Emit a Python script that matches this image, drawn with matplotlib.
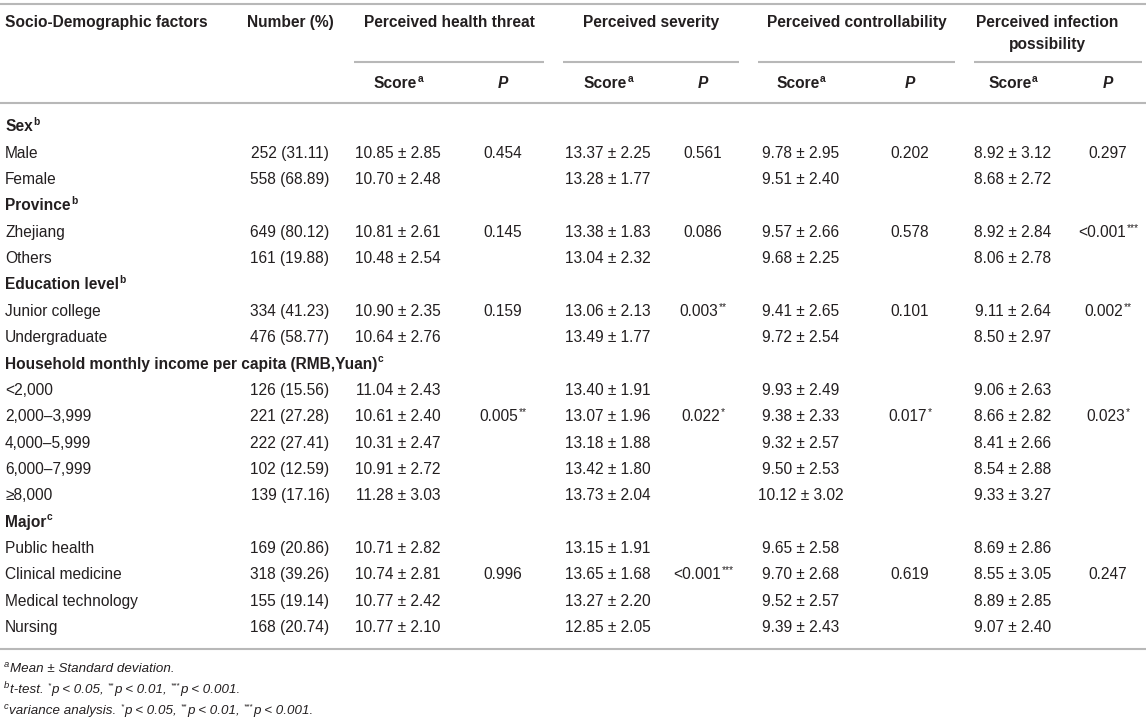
import matplotlib
matplotlib.use("Agg")
import matplotlib.pyplot as plt

# ---- table content ----
group_labels = ["Sex", "Province", "Education level",
                "Household monthly income per capita (RMB,Yuan)", "Major"]
group_sups = ["b", "b", "b", "c", "c"]
group_items = [
    ["Male", "Female"],
    ["Zhejiang", "Others"],
    ["Junior college", "Undergraduate"],
    ["<2,000", "2,000\u20133,999", "4,000\u20135,999", "6,000\u20137,999", "\u22658,000"],
    ["Public health", "Clinical medicine", "Medical technology", "Nursing"],
]
n_count = [252, 558, 649, 161, 334, 476, 126, 221, 222, 102, 139, 169, 318, 155, 168]
n_pct = [31.11, 68.89, 80.12, 19.88, 41.23, 58.77, 15.56, 27.28, 27.41, 12.59, 17.16,
         20.86, 39.26, 19.14, 20.74]

threat_mean = [10.85, 10.70, 10.81, 10.48, 10.90, 10.64, 11.04, 10.61, 10.31, 10.91, 11.28,
               10.71, 10.74, 10.77, 10.77]
threat_sd = [2.85, 2.48, 2.61, 2.54, 2.35, 2.76, 2.43, 2.40, 2.47, 2.72, 3.03,
             2.82, 2.81, 2.42, 2.10]
severity_mean = [13.37, 13.28, 13.38, 13.04, 13.06, 13.49, 13.40, 13.07, 13.18, 13.42, 13.73,
                 13.15, 13.65, 13.27, 12.85]
severity_sd = [2.25, 1.77, 1.83, 2.32, 2.13, 1.77, 1.91, 1.96, 1.88, 1.80, 2.04,
               1.91, 1.68, 2.20, 2.05]
control_mean = [9.78, 9.51, 9.57, 9.68, 9.41, 9.72, 9.93, 9.38, 9.32, 9.50, 10.12,
                9.65, 9.70, 9.52, 9.39]
control_sd = [2.95, 2.40, 2.66, 2.25, 2.65, 2.54, 2.49, 2.33, 2.57, 2.53, 3.02,
              2.58, 2.68, 2.57, 2.43]
infect_mean = [8.92, 8.68, 8.92, 8.06, 9.11, 8.50, 9.06, 8.66, 8.41, 8.54, 9.33,
               8.69, 8.55, 8.89, 9.07]
infect_sd = [3.12, 2.72, 2.84, 2.78, 2.64, 2.97, 2.63, 2.82, 2.66, 2.88, 3.27,
             2.86, 3.05, 2.85, 2.40]

# P values: (item row within the group, value, stars) one per group
threat_p = [(0, "0.454", ""), (0, "0.145", ""), (0, "0.159", ""), (1, "0.005", "**"), (1, "0.996", "")]
severity_p = [(0, "0.561", ""), (0, "0.086", ""), (0, "0.003", "**"), (1, "0.022", "*"), (1, "<0.001", "***")]
control_p = [(0, "0.202", ""), (0, "0.578", ""), (0, "0.101", ""), (1, "0.017", "*"), (1, "0.619", "")]
infect_p = [(0, "0.297", ""), (0, "<0.001", "***"), (0, "0.002", "**"), (1, "0.023", "*"), (1, "0.247", "")]

col_headers = ["Perceived health threat", "Perceived severity",
               "Perceived controllability", "Perceived infection\npossibility"]

# ---- layout ----
W, H = 1146, 718
FS = 11.2
FN = 9.6
TXT = "#231f20"
LINE = "#b8b8b8"
plt.rcParams["font.family"] = ["Liberation Sans", "DejaVu Sans"]

fig = plt.figure(figsize=(W / 100, H / 100), dpi=100)
ax = fig.add_axes([0, 0, 1, 1])
ax.set_xlim(0, W)
ax.set_ylim(H, 0)
ax.axis("off")
renderer = fig.canvas.get_renderer()


def width(s, **kw):
    t = ax.text(0, 0, s, **kw)
    w = t.get_window_extent(renderer=renderer).width
    t.remove()
    return w


def put(x, y, s, sup="", ha="center", weight="normal", style="normal", size=FS):
    # y is the visual middle of the capitals
    kw = dict(fontsize=size, fontweight=weight, fontstyle=style, color=TXT)
    skw = dict(fontsize=size * 0.66, fontweight=weight, fontstyle=style, color=TXT)
    w1 = width(s, **kw)
    w2 = width(sup, **skw) if sup else 0
    left = x - (w1 + w2) / 2 if ha == "center" else x
    base = y + size * 0.48
    ax.text(left, base, s, ha="left", va="baseline", **kw)
    if sup:
        ax.text(left + w1 + 0.5, base - size * 0.55, sup, ha="left", va="baseline", **skw)


col_first = 5
col_num = 290
group_mid = [449, 651, 857, 1047]
score_x = [398, 608, 801, 1013]
p_x = [503, 703, 910, 1108]
seg = [(354, 544), (563, 739), (758, 955), (974, 1142)]

# rules
ax.plot([0, W], [4, 4], color=LINE, lw=1.5, solid_capstyle="butt")
for a, b in seg:
    ax.plot([a, b], [62, 62], color=LINE, lw=1.5, solid_capstyle="butt")
ax.plot([0, W], [103, 103], color=LINE, lw=1.5, solid_capstyle="butt")
ax.plot([0, W], [649, 649], color=LINE, lw=1.5, solid_capstyle="butt")

# header
put(col_first, 22, "Socio-Demographic factors", ha="left", weight="bold")
put(col_num, 22, "Number (%)", weight="bold")
for i, h in enumerate(col_headers):
    lines = h.split("\n")
    for k, ln in enumerate(lines):
        put(group_mid[i], 22 + 22 * k, ln, weight="bold")
    put(score_x[i], 83, "Score", sup="a", weight="bold")
    put(p_x[i], 83, "P", weight="bold", style="italic")

# body
means = [threat_mean, severity_mean, control_mean, infect_mean]
sds = [threat_sd, severity_sd, control_sd, infect_sd]
pvals = [threat_p, severity_p, control_p, infect_p]
y0, dy = 126, 26.35
r = 0
k = 0
for g, label in enumerate(group_labels):
    put(col_first, y0 + dy * r, label, sup=group_sups[g], ha="left", weight="bold")
    r += 1
    for j, item in enumerate(group_items[g]):
        y = y0 + dy * r
        put(col_first, y, item, ha="left")
        put(col_num, y, "%d (%.2f)" % (n_count[k], n_pct[k]))
        for c in range(4):
            put(score_x[c], y, "%.2f \u00b1 %.2f" % (means[c][k], sds[c][k]))
            row, val, stars = pvals[c][g]
            if row == j:
                put(p_x[c], y, val, sup=stars)
        r += 1
        k += 1

# footnotes
foot = [("a", "Mean \u00b1 Standard deviation."),
        ("b", "t-test. "),
        ("c", "variance analysis. ")]
tail = [("*", "p < 0.05, "), ("**", "p < 0.01, "), ("***", "p < 0.001.")]
fy = [667, 688, 709]
for i, (sup, txt) in enumerate(foot):
    base = fy[i] + FN * 0.48
    x = 4
    ax.text(x, base - FN * 0.5, sup, fontsize=FN * 0.7, fontstyle="italic", color=TXT, va="baseline")
    x += width(sup, fontsize=FN * 0.7, fontstyle="italic") + 0.5
    ax.text(x, base, txt, fontsize=FN, fontstyle="italic", color=TXT, va="baseline")
    if i > 0:
        x += width(txt, fontsize=FN, fontstyle="italic")
        for st, tt in tail:
            ax.text(x, base - FN * 0.5, st, fontsize=FN * 0.6, fontstyle="italic", color=TXT, va="baseline")
            x += width(st, fontsize=FN * 0.6, fontstyle="italic") + 0.5
            ax.text(x, base, tt, fontsize=FN, fontstyle="italic", color=TXT, va="baseline")
            x += width(tt, fontsize=FN, fontstyle="italic")

fig.savefig("out.png", dpi=100, facecolor="white")
